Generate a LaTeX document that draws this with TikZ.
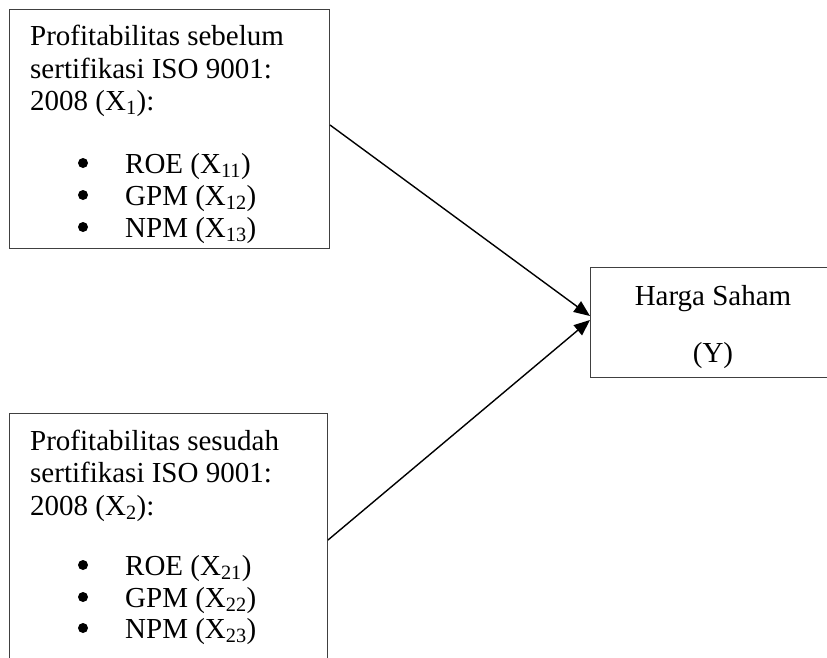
\documentclass[tikz,border=0pt]{standalone}
\usepackage{fontspec}
\setmainfont{Liberation Serif}
\usetikzlibrary{arrows.meta}
\begin{document}
\begin{tikzpicture}[x=1pt,y=-1pt,
  box/.style={draw=black!75,line width=1pt,inner sep=0pt,anchor=north west},
  txt/.style={anchor=base west,inner sep=0pt,font=\fontsize{29}{35}\selectfont},
  ctxt/.style={anchor=base,inner sep=0pt,font=\fontsize{29}{35}\selectfont},
  bul/.style={circle,fill=black,inner sep=0pt,minimum size=10pt},
  arr/.style={line width=1.4pt,-{Triangle[length=16pt,width=13pt]}}]
\useasboundingbox (0,0) rectangle (827,657);
% boxes
\node[box,minimum width=320pt,minimum height=239pt] (b1) at (9,9) {};
\node[box,minimum width=318pt,minimum height=260pt] (b2) at (9,413) {};
\node[box,minimum width=260pt,minimum height=110pt] (y) at (590,267) {};
% top box text
\begin{scope}
\clip (9,9) rectangle (329,243);
\node[txt] (t1) at (30,45) {Profitabilitas sebelum};
\node[txt] (t2) at (30,78) {sertifikasi ISO 9001:};
\node[txt] (t3) at (30,110) {2008 (X\textsubscript{1}):};
\node[bul] (u1) at (83,163) {};
\node[bul] (u2) at (83,195) {};
\node[bul] (u3) at (83,227) {};
\node[txt] (v1) at (125,173) {ROE (X\textsubscript{11})};
\node[txt] (v2) at (125,205) {GPM (X\textsubscript{12})};
\node[txt] (v3) at (125,237) {NPM (X\textsubscript{13})};
\end{scope}
% bottom box text
\node[txt] (s1) at (30,450) {Profitabilitas sesudah};
\node[txt] (s2) at (30,482) {sertifikasi ISO 9001:};
\node[txt] (s3) at (30,515) {2008 (X\textsubscript{2}):};
\node[bul] (w1) at (83,565) {};
\node[bul] (w2) at (83,597) {};
\node[bul] (w3) at (83,628) {};
\node[txt] (z1) at (125,575) {ROE (X\textsubscript{21})};
\node[txt] (z2) at (125,607) {GPM (X\textsubscript{22})};
\node[txt] (z3) at (125,638) {NPM (X\textsubscript{23})};
% right box text
\node[ctxt] (h1) at (713,305) {Harga Saham};
\node[ctxt] (h2) at (713,362) {(Y)};
% arrows
\coordinate (a1) at (b1.east |- 0,125);
\coordinate (a2) at (b2.east |- 0,540);
\coordinate (e1) at (y.west |- 0,316);
\coordinate (e2) at (y.west |- 0,320);
\draw[arr] (a1) -- (e1);
\draw[arr] (a2) -- (e2);
\end{tikzpicture}
\end{document}
